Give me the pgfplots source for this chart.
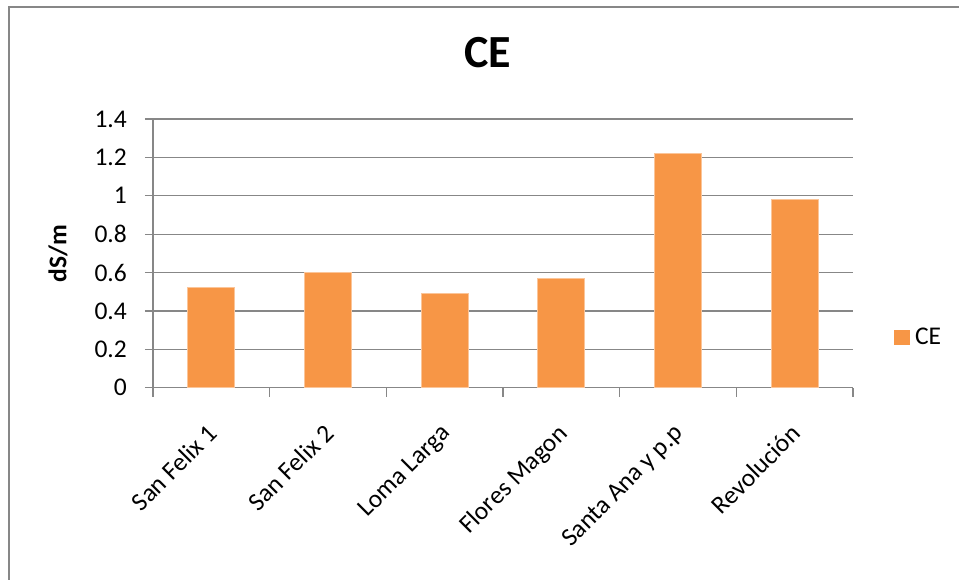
\documentclass[border=0pt]{standalone}
\usepackage{pgfplots}
\pgfplotsset{compat=1.18}
\usepackage{fontspec}
\setmainfont{Carlito}
\definecolor{barorange}{HTML}{F79646}
\definecolor{axgray}{HTML}{878787}
\newcommand{\lblfont}{\fontsize{25.5pt}{30pt}\selectfont}

\begin{document}
\begin{tikzpicture}
\path[use as bounding box] (0,0) rectangle (959pt,580pt);
% chart frame
\draw[axgray, line width=2pt] (9pt,0pt) -- (9pt,573pt) -- (959pt,573pt);
\begin{axis}[
  at={(153pt,192.3pt)}, anchor=south west,
  scale only axis, width=700pt, height=268.7pt,
  ybar, bar width=47pt,
  ymin=0, ymax=1.4,
  ytick={0,0.2,0.4,0.6,0.8,1,1.2,1.4},
  xmin=-0.5, xmax=5.5,
  xtick={0,1,2,3,4,5},
  xticklabels={San Felix 1, San Felix 2, Loma Larga, Flores Magon, Santa Ana y p.p, Revolución},
  minor xtick={-0.5,0.5,1.5,2.5,3.5,4.5,5.5},
  axis x line*=bottom, axis y line*=left,
  axis line style={axgray, line width=1.2pt, -},
  ymajorgrids, major grid style={axgray, line width=1.2pt},
  tick align=outside,
  major tick length=8pt, minor tick length=9pt,
  tick style={axgray, line width=1.2pt},
  major x tick style={draw=none},
  /pgf/number format/assume math mode=true,
  tick label style={font=\lblfont, text=black},
  yticklabel style={anchor=east, inner sep=0pt, xshift=-18pt},
  % shifts act along and across the rotated text
  xticklabel style={rotate=45, anchor=north east, inner sep=0pt, xshift=-22.7pt, yshift=-15.2pt},
  ylabel={dS/m},
  ylabel style={font=\lblfont\bfseries, at={(axis description cs:-0.1357,0.5)}, anchor=center, rotate=0},
  title={CE},
  title style={font=\bfseries\fontsize{46pt}{50pt}\selectfont, at={(axis description cs:0.478,1.171)}, anchor=base},
  legend style={draw=none, fill=none, at={(axis description cs:1.0586,0.189)}, anchor=west, inner sep=0pt, font=\lblfont,
    /tikz/every odd column/.append style={column sep=3pt}},
  legend image code/.code={\fill[barorange] (0pt,-7pt) rectangle (15pt,7pt);},
]
\addplot[fill=barorange, draw=barorange!55!white, line width=0.8pt]
  coordinates {(0,0.52) (1,0.60) (2,0.49) (3,0.57) (4,1.22) (5,0.98)};
\addlegendentry{CE}
\end{axis}
\end{tikzpicture}
\end{document}
